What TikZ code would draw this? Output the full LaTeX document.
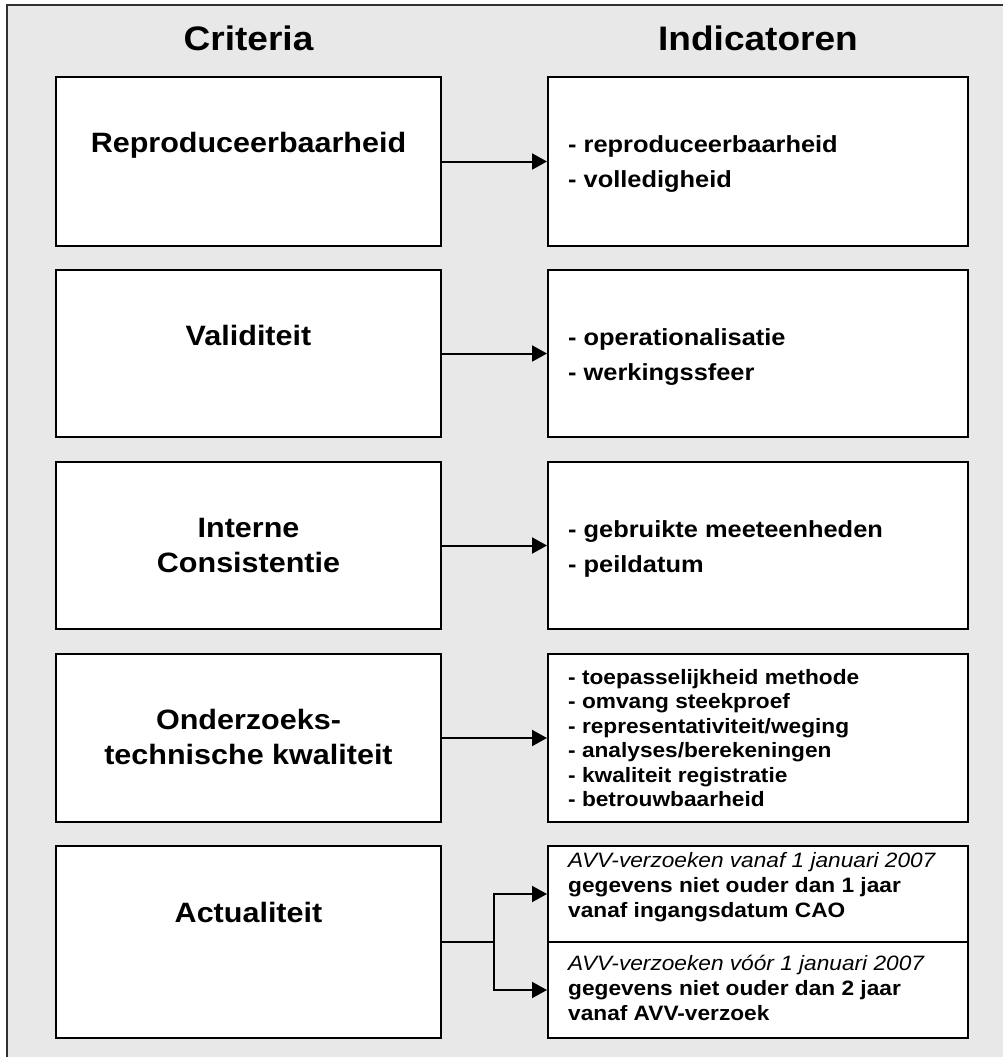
\documentclass[tikz,border=0pt]{standalone}
\usepackage{fontspec}
\setmainfont{Liberation Sans}[FakeStretch=1.09]
\usetikzlibrary{arrows.meta}
\definecolor{bggrey}{HTML}{E8E8E8}
\definecolor{framegrey}{HTML}{303030}
\begin{document}
\begin{tikzpicture}[x=1pt,y=-1pt,
  boxL/.style={draw=black,fill=white,line width=2pt,minimum width=385pt,inner sep=0pt},
  boxR/.style={draw=black,fill=white,line width=2pt,minimum width=420pt,inner sep=0pt},
  heading/.style={font=\fontsize{34}{40}\selectfont\bfseries,inner sep=0pt,anchor=base},
  title/.style={font=\fontsize{28}{35}\selectfont\bfseries,inner sep=0pt,anchor=base,align=center},
  ind/.style={font=\fontsize{23.3}{35}\selectfont\bfseries,inner sep=0pt,anchor=base west,align=left},
  smallind/.style={font=\fontsize{20.8}{24.5}\selectfont\bfseries,inner sep=0pt,anchor=base west,align=left},
  actind/.style={font=\fontsize{20.8}{25}\selectfont,inner sep=0pt,anchor=base west,align=left},
  conn/.style={line width=2pt,draw=black},
  arr/.style={conn,-{Triangle[length=15pt,width=16pt]}}
]
\useasboundingbox (0,0) rectangle (1003,1057);
\clip (0,0) rectangle (1003,1057);
\fill[bggrey] (7,5) rectangle (1030,1080);
\draw[framegrey,line width=1.6pt] (7,1080) -- (7,5) -- (1030,5);

% headings
\node[heading] (hC) at (248.5,51) {Criteria};
\node[heading] (hI) at (758,51) {Indicatoren};

% left boxes
\node[boxL,minimum height=169pt] (L1) at (248.5,161.5) {};
\node[boxL,minimum height=167pt] (L2) at (248.5,353.5) {};
\node[boxL,minimum height=167pt] (L3) at (248.5,545.5) {};
\node[boxL,minimum height=168pt] (L4) at (248.5,738) {};
\node[boxL,minimum height=192pt] (L5) at (248.5,942) {};

% right boxes
\node[boxR,minimum height=169pt] (R1) at (758,161.5) {};
\node[boxR,minimum height=167pt] (R2) at (758,353.5) {};
\node[boxR,minimum height=167pt] (R3) at (758,545.5) {};
\node[boxR,minimum height=168pt] (R4) at (758,738) {};
\node[boxR,minimum height=96pt] (R5a) at (758,894) {};
\node[boxR,minimum height=96pt] (R5b) at (758,990) {};

% titles (base anchor = baseline of last line)
\node[title] (t1) at (248.5,152) {Reproduceerbaarheid};
\node[title] (t2) at (248.5,345) {Validiteit};
\node[title] (t3) at (248.5,572) {Interne\\Consistentie};
\node[title] (t4) at (248.5,764) {Onderzoeks-\\technische kwaliteit};
\node[title] (t5) at (248.5,922) {Actualiteit};

% indicators
\node[ind] (i1) at (568,187) {- reproduceerbaarheid\\- volledigheid};
\node[ind] (i2) at (568,380) {- operationalisatie\\- werkingssfeer};
\node[ind] (i3) at (568,572) {- gebruikte meeteenheden\\- peildatum};
\node[smallind] (i4) at (568,806.5) {- toepasselijkheid methode\\- omvang steekproef\\- representativiteit/weging\\- analyses/berekeningen\\- kwaliteit registratie\\- betrouwbaarheid};
\node[actind] (i5a) at (568,917) {\itshape AVV-verzoeken vanaf 1 januari 2007\\\bfseries gegevens niet ouder dan 1 jaar\\\bfseries vanaf ingangsdatum CAO};
\node[actind] (i5b) at (568,1020) {\itshape AVV-verzoeken vóór 1 januari 2007\\\bfseries gegevens niet ouder dan 2 jaar\\\bfseries vanaf AVV-verzoek};

% connectors
\draw[arr] (L1.east) -- (R1.west);
\draw[arr] (L2.east) -- (R2.west);
\draw[arr] (L3.east) -- (R3.west);
\draw[arr] (L4.east) -- (R4.west);
\coordinate (J) at (494,942);
\draw[conn] (L5.east) -- (J);
\draw[arr] (J) |- (R5a.west);
\draw[arr] (J) |- (R5b.west);
\end{tikzpicture}
\end{document}
